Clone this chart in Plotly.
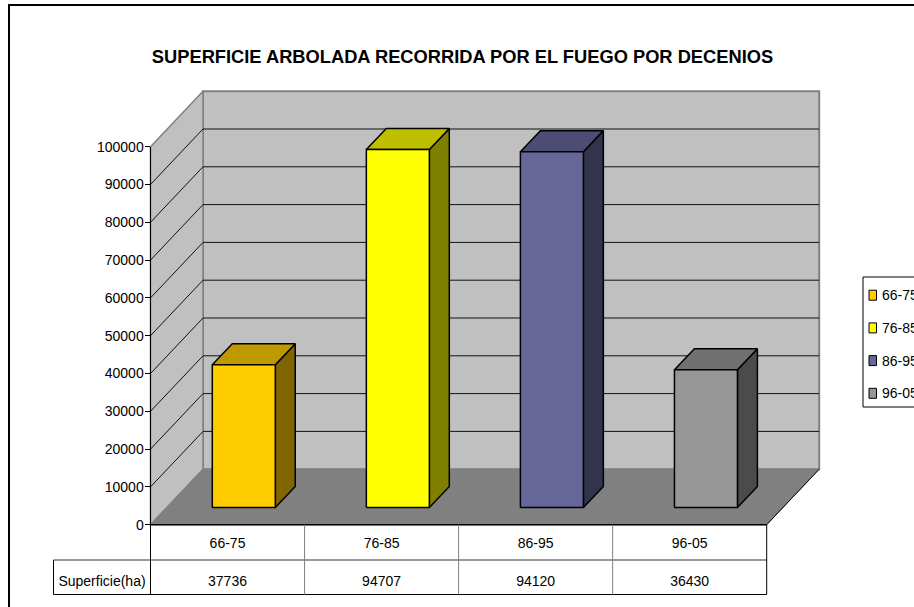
import plotly.graph_objects as go

# ---- data ----
categories = ["66-75", "76-85", "86-95", "96-05"]
values = [37736, 94707, 94120, 36430]
row_label = "Superficie(ha)"
y_ticks = [0, 10000, 20000, 30000, 40000, 50000, 60000, 70000, 80000, 90000, 100000]
front_colors = ["#FFCC00", "#FFFF00", "#666699", "#969696"]
side_colors = ["#7F6600", "#808000", "#33334D", "#4B4B4B"]
top_colors = ["#BF9900", "#BFBF00", "#4D4D73", "#707070"]
title = "SUPERFICIE ARBOLADA RECORRIDA POR EL FUEGO POR DECENIOS"

# ---- layout geometry (px) ----
W, H = 914, 607
X0, X1 = 150.5, 766.7
Y0, Y100 = 524.7, 146.7
YMAX = 100000
DX_PX, DY_PX = 52.5, 55.5
N = len(categories)
px_x = (X1 - X0) / N
px_y = (Y0 - Y100) / YMAX
DX = DX_PX / px_x            # depth, in category units
DY = DY_PX / px_y            # depth, in value units
BAR_W = 0.409
D0, D1 = 0.31, 0.69          # bar's position within floor depth
FONT = "Liberation Sans, Arial, sans-serif"
FS = 14

fig = go.Figure()


def poly(xs, ys, fill=None, line="#000000", width=1):
    closed = fill is not None
    fig.add_trace(go.Scatter(
        x=list(xs) + ([xs[0]] if closed else []),
        y=list(ys) + ([ys[0]] if closed else []),
        mode="lines",
        fill="toself" if closed else None,
        fillcolor=fill,
        line=dict(color=line, width=width),
        hoverinfo="skip", showlegend=False,
    ))


# back wall and side wall
poly([DX, N + DX, N + DX, DX], [DY, DY, DY + YMAX, DY + YMAX], "#C0C0C0", "#808080", 2)
poly([0, DX, DX, 0], [0, DY, DY + YMAX, YMAX], "#C0C0C0", "#808080", 1.5)
# floor
poly([0, N, N + DX, DX], [0, 0, DY, DY], "#808080", "#808080", 1)
poly([N, N + DX], [0, DY], None, "#000000", 1)
# gridlines
for t in y_ticks[1:-1]:
    poly([0, DX, N + DX], [t, t + DY, t + DY], None, "#111111", 1)

# bars
for i, v in enumerate(values):
    xa = i + 0.5 - BAR_W / 2 + D0 * DX
    xb = i + 0.5 + BAR_W / 2 + D0 * DX
    ya = D0 * DY
    ex = (D1 - D0) * DX
    ey = (D1 - D0) * DY
    poly([xb, xb + ex, xb + ex, xb], [ya, ya + ey, ya + v + ey, ya + v], side_colors[i], "#000000", 1.5)
    poly([xa, xb, xb + ex, xa + ex], [ya + v, ya + v, ya + v + ey, ya + v + ey], top_colors[i], "#000000", 1.5)
    poly([xa, xb, xb, xa], [ya, ya, ya + v, ya + v], front_colors[i], "#000000", 1.5)

# data table
R1 = -(560 - Y0) / px_y
R2 = -(594.5 - Y0) / px_y
XL = -(X0 - 53.5) / px_x
poly([0, N], [0, 0], None, "#000000", 1.5)
poly([XL, N], [R1, R1], None, "#333333", 1)
poly([XL, N], [R2, R2], None, "#000000", 1)
poly([XL, XL], [R1, R2], None, "#000000", 1)
poly([0, 0], [0, R2], None, "#000000", 1)
for i in range(1, N):
    poly([i, i], [0, R2], None, "#808080", 1)
poly([N, N], [0, R2], None, "#000000", 1)

centers = [i + 0.5 for i in range(N)]
row1_y = -(544.5 - Y0) / px_y
row2_y = -(582 - Y0) / px_y
fig.add_trace(go.Scatter(
    x=centers + centers + [XL / 2],
    y=[row1_y] * N + [row2_y] * N + [row2_y],
    text=categories + [str(v) for v in values] + [row_label],
    mode="text", textposition="middle center",
    textfont=dict(family=FONT, size=FS, color="#000000"),
    hoverinfo="skip", showlegend=False,
))

# visible value axis, on its own scale
fig.add_trace(go.Scatter(x=centers, y=values, xaxis="x2", yaxis="y2", mode="none",
                         hoverinfo="skip", showlegend=False))

shapes = [
    # outer frame, runs past the right and bottom edges
    dict(type="rect", xref="paper", yref="paper", x0=9 / W, x1=(W + 20) / W,
         y0=-20 / H, y1=1 - 5 / H, line=dict(color="#000000", width=2), layer="below"),
    # legend box
    dict(type="rect", xref="paper", yref="paper", x0=863 / W, x1=(W + 20) / W,
         y0=1 - 407 / H, y1=1 - 277 / H, line=dict(color="#000000", width=1),
         fillcolor="#FFFFFF"),
]
annotations = []
for i, cat in enumerate(categories):
    yc = 295.2 + i * 32.7
    shapes.append(dict(type="rect", xref="paper", yref="paper",
                       x0=869 / W, x1=876.5 / W, y0=1 - (yc + 5) / H, y1=1 - (yc - 5) / H,
                       line=dict(color="#000000", width=1), fillcolor=front_colors[i]))
    annotations.append(dict(xref="paper", yref="paper", x=881 / W, y=1 - yc / H,
                            text=cat, showarrow=False, xanchor="left", yanchor="middle",
                            font=dict(family=FONT, size=FS, color="#000000"),
                            borderpad=0))

fig.update_layout(
    width=W, height=H,
    margin=dict(l=0, r=0, t=0, b=0, autoexpand=False),
    paper_bgcolor="#FFFFFF", plot_bgcolor="rgba(0,0,0,0)",
    showlegend=False,
    title=dict(text=f"<b>{title}</b>", x=462.5 / W, y=1 - 57 / H,
               xanchor="center", yanchor="middle",
               font=dict(family=FONT, size=18.3, color="#000000")),
    xaxis=dict(domain=[0, 1], range=[-X0 / px_x, (W - X0) / px_x], visible=False, fixedrange=True),
    yaxis=dict(domain=[0, 1], range=[-(H - Y0) / px_y, Y0 / px_y], visible=False, fixedrange=True),
    xaxis2=dict(domain=[X0 / W, X1 / W], range=[0, N], visible=False, fixedrange=True, anchor="y2"),
    yaxis2=dict(domain=[1 - Y0 / H, 1 - Y100 / H], range=[0, YMAX], fixedrange=True, anchor="x2",
                tickmode="array", tickvals=y_ticks, ticktext=[str(t) for t in y_ticks],
                ticks="outside", ticklen=5, tickcolor="#000000", tickwidth=1,
                ticklabelstandoff=-2,
                showgrid=False, zeroline=False, showline=True, linecolor="#000000", linewidth=1,
                tickfont=dict(family=FONT, size=FS, color="#000000")),
    shapes=shapes, annotations=annotations,
)

fig.write_html("out.html", config={"displayModeBar": False},
               post_script="document.body.style.margin='0';document.body.style.overflow='hidden';")
